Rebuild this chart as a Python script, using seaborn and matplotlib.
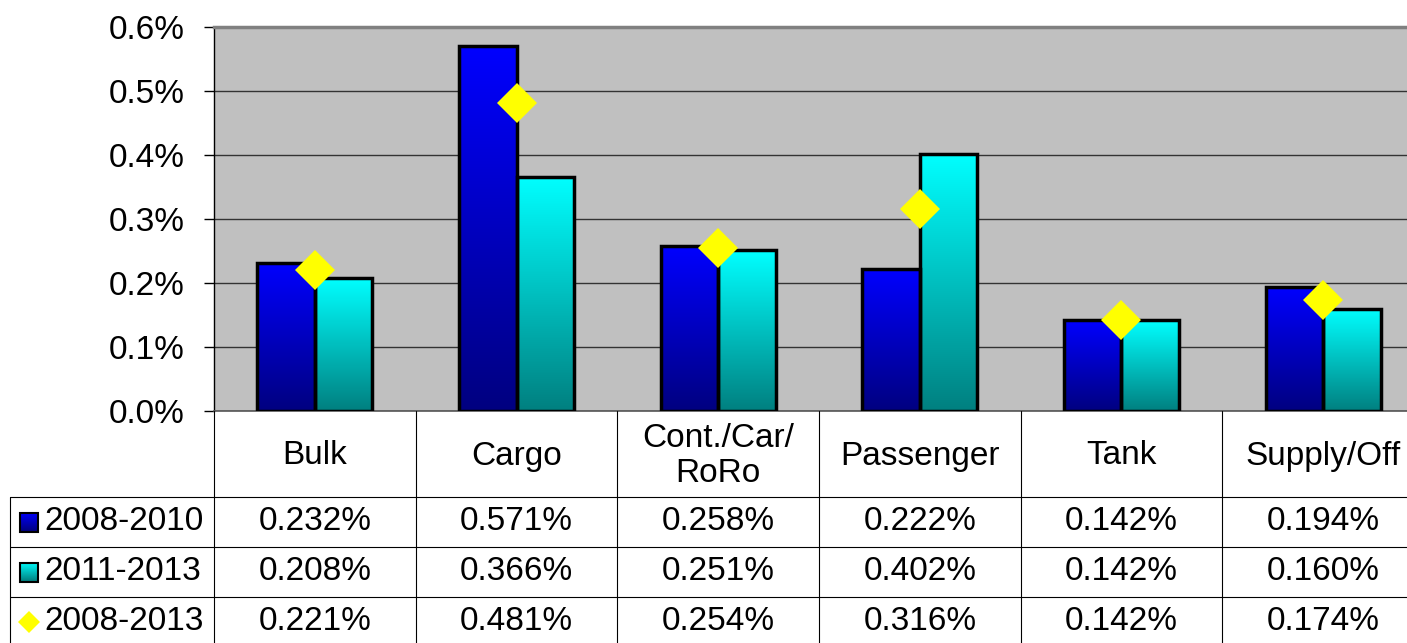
import numpy as np
import pandas as pd
import matplotlib
matplotlib.use('Agg')
import matplotlib.pyplot as plt
import matplotlib.transforms as mtransforms
from matplotlib.lines import Line2D
from matplotlib.patches import Rectangle
import seaborn as sns

categories = ['Bulk', 'Cargo', 'Cont./Car/\nRoRo', 'Passenger', 'Tank', 'Supply/Off']
periods = ['2008-2010', '2011-2013', '2008-2013']
rate_2008_2010 = [0.232, 0.571, 0.258, 0.222, 0.142, 0.194]
rate_2011_2013 = [0.208, 0.366, 0.251, 0.402, 0.142, 0.160]
rate_2008_2013 = [0.221, 0.481, 0.254, 0.316, 0.142, 0.174]
y_ticks = [0.0, 0.1, 0.2, 0.3, 0.4, 0.5, 0.6]

W, H = 1407, 643
FS = 24

# bar colours: top -> bottom of gradient
grad_colors = {
    '2008-2010': ('#0000FF', '#000080'),
    '2011-2013': ('#00FFFF', '#008080'),
}


def gradient_img(top, bottom, n=128):
    t = np.linspace(0, 1, n).reshape(-1, 1, 1)
    c0 = np.array(matplotlib.colors.to_rgb(top))
    c1 = np.array(matplotlib.colors.to_rgb(bottom))
    return c0 * (1 - t) + c1 * t


def main():
    sns.set_style('white')
    plt.rcParams['font.family'] = ['Liberation Sans', 'DejaVu Sans']
    plt.rcParams['text.color'] = 'black'
    plt.rcParams['ytick.color'] = 'black'
    plt.rcParams['ytick.labelcolor'] = 'black'

    fig = plt.figure(figsize=(W / 100, H / 100), dpi=100)
    ax = fig.add_axes([214 / W, (H - 411) / H, 1210 / W, 384 / H])
    ax.set_facecolor('#C0C0C0')

    bars = pd.DataFrame({
        'type': categories * 2,
        'period': [periods[0]] * len(categories) + [periods[1]] * len(categories),
        'value': rate_2008_2010 + rate_2011_2013,
    })
    avg = pd.DataFrame({'type': categories, 'value': rate_2008_2013})

    sns.barplot(data=bars, x='type', y='value', hue='period', hue_order=periods[:2],
                palette=['#0000FF', '#00FFFF'], saturation=1, width=0.57, gap=0,
                edgecolor='black', linewidth=2.5, legend=False, ax=ax, zorder=3)

    # gradient fill, clipped to each bar
    for cont, per in zip(ax.containers, periods[:2]):
        top, bottom = grad_colors[per]
        for patch in cont:
            x0, y0 = patch.get_x(), patch.get_y()
            w, h = patch.get_width(), patch.get_height()
            im = ax.imshow(gradient_img(top, bottom), extent=(x0, x0 + w, y0, y0 + h),
                           origin='upper', aspect='auto', zorder=2.9, interpolation='bilinear')
            im.set_clip_path(patch)
            patch.set_facecolor('none')

    sns.pointplot(data=avg, x='type', y='value', color='#FFFF00', markers='D',
                  linestyle='none', errorbar=None, markersize=20.5, markeredgewidth=0,
                  ax=ax, zorder=5)

    ax.set_xlim(-0.5, len(categories) - 0.5)
    ax.set_ylim(0, 0.6)
    ax.set_autoscale_on(False)
    ax.set_yticks(y_ticks)
    ax.set_yticklabels([f'{v:.1f}%' for v in y_ticks], fontsize=FS, color='black')
    ax.tick_params(axis='y', direction='out', length=7, width=1, color='black', pad=14, left=True)
    ax.tick_params(axis='x', length=0, labelbottom=False)
    ax.set_xlabel('')
    ax.set_ylabel('')
    ax.grid(axis='y', color='#333333', linewidth=1)
    ax.set_axisbelow(True)
    ax.spines['top'].set_color('#808080')
    ax.spines['top'].set_linewidth(2.5)
    ax.spines['left'].set_color('black')
    ax.spines['left'].set_linewidth(1)
    ax.spines['bottom'].set_color('#555555')
    ax.spines['bottom'].set_linewidth(1.2)
    ax.spines['right'].set_visible(False)

    # data table below the plot: pixel y, data x
    px = mtransforms.Affine2D().scale(1 / W, -1 / H).translate(0, 1) + fig.transFigure
    blend = mtransforms.blended_transform_factory(ax.transData, px)

    line_kw = dict(color='black', linewidth=0.8, clip_on=False)
    for y in [497, 547, 597]:
        fig.add_artist(Line2D([10, W + 10], [y, y], transform=px, **line_kw))
    fig.add_artist(Line2D([10, 10], [497, H + 10], transform=px, **line_kw))
    for b in np.arange(-0.5, len(categories) + 0.5, 1.0):
        fig.add_artist(Line2D([b, b], [411, H + 10], transform=blend, **line_kw))

    for i, cat in enumerate(categories):
        ax.text(i, 456, cat, transform=blend, ha='center', va='center', color='black',
                fontsize=FS, linespacing=1.15, clip_on=False)

    row_y = [522, 572, 622]
    for y, vals in zip(row_y, [rate_2008_2010, rate_2011_2013, rate_2008_2013]):
        for i, v in enumerate(vals):
            ax.text(i, y, f'{v:.3f}%', transform=blend, ha='center', va='center',
                    color='black', fontsize=FS, clip_on=False)

    for y, per in zip(row_y, periods):
        ax.text(44, y, per, transform=px, ha='left', va='center', color='black',
                fontsize=FS, clip_on=False)

    # legend keys inside the table
    for y, per in zip(row_y[:2], periods[:2]):
        top, bottom = grad_colors[per]
        key = Rectangle((20, y - 9.5), 18, 19, transform=px, facecolor='none',
                        edgecolor='black', linewidth=1.5, clip_on=False, zorder=6)
        ax.add_artist(key)
        ax.imshow(gradient_img(top, bottom), extent=(20, 38, y + 9.5, y - 9.5),
                  origin='upper', aspect='auto', transform=px, zorder=5.5, clip_on=False)
    ax.add_artist(Line2D([29], [row_y[2]], transform=px, marker='D', markersize=10.7,
                         color='#FFFF00', markeredgewidth=0, linestyle='none', clip_on=False))

    ax.set_xlim(-0.5, len(categories) - 0.5)
    ax.set_ylim(0, 0.6)

    fig.savefig('out.png', dpi=100, facecolor='white')


if __name__ == '__main__':
    main()
